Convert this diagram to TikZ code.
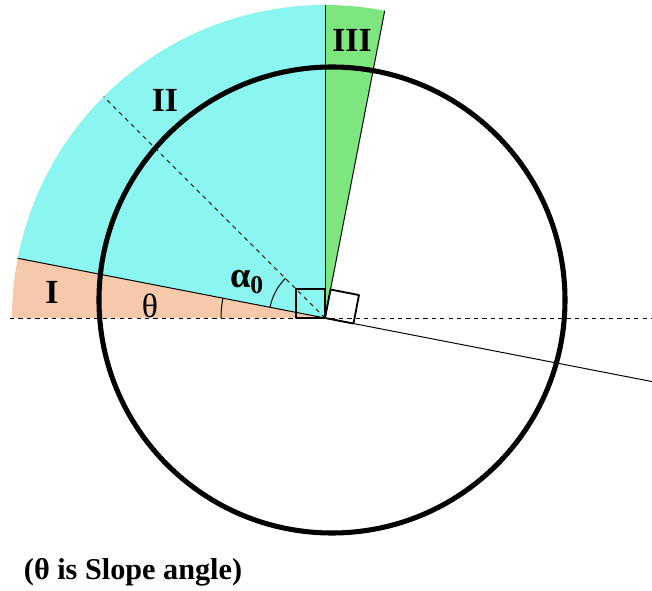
\documentclass[tikz,border=0pt]{standalone}
\usepackage{fontspec}
\setmainfont{Liberation Serif}
\definecolor{zoneI}{RGB}{246,201,170}
\definecolor{zoneII}{RGB}{139,245,240}
\definecolor{zoneIII}{RGB}{126,230,126}
\tikzset{
    thinline/.style={line width=0.7pt},
    zonelabel/.style={font=\fontsize{24}{28}\selectfont\bfseries},
    rightmark/.style={line width=1.3pt}
}
\begin{document}
\begin{tikzpicture}[
    line join=round,
    line cap=butt
]
    \useasboundingbox (-8.125,-6.825) rectangle (8.175,7.95);

    % 参数
    \def\R{7.825}
    \def\th{11}
    \def\ao{135}
    \def\sq{0.725}

    % 原点
    \coordinate (O) at (0,0);

    % 区域 I, II, III
    \fill[zoneI] (O) -- (180:\R) arc (180:180-\th:\R) -- cycle;
    \fill[zoneII] (O) -- (180-\th:\R) arc (180-\th:90:\R) -- cycle;
    \fill[zoneIII] (O) -- (90:\R) arc (90:90-\th:\R) -- cycle;

    % 边界线
    \draw[thinline] (O) -- (180-\th:\R);
    \draw[thinline] (O) -- (90:\R);
    \draw[thinline] (O) -- (90-\th:\R);

    % 水平虚线与斜线
    \coordinate (L) at (-7.875,0);
    \coordinate (Rt) at (8.175,0);
    \draw[thinline,dashed] (L) -- (Rt);
    \coordinate (S) at (-\th:8.33);
    \draw[thinline] (O) -- (S);

    % alpha_0 方向
    \draw[thinline,dashed] (O) -- (\ao:\R);

    % 直角标记
    \draw[rightmark] (O) rectangle (-\sq,\sq);
    \draw[rightmark] (O) -- (90-\th:\sq) -- ++(-\th:\sq) -- (-\th:\sq) -- cycle;

    % 角度弧
    \draw[thinline] (180:2.6) arc (180:180-\th:2.6);
    \draw[thinline] (180-\th:1.4) arc (180-\th:\ao:1.4);

    % 圆
    \draw[line width=3.6pt] (0.175,0.45) circle (5.825);

    % 标注
    \node[zonelabel] (lI) at (-6.825,0.65) {I};
    \node[zonelabel] (lII) at (-4.0,5.45) {II};
    \node[zonelabel] (lIII) at (0.675,6.95) {III};
    \node[font=\fontsize{24}{28}\selectfont] (lth) at (-4.375,0.3) {θ};
    \node[font=\fontsize{26}{30}\selectfont\bfseries] (lao) at (-1.95,0.9) {α\textsubscript{0}};
    \node[font=\fontsize{21.5}{25}\selectfont\bfseries,anchor=west] (note) at (-7.65,-6.35) {(θ is Slope angle)};

\end{tikzpicture}
\end{document}
